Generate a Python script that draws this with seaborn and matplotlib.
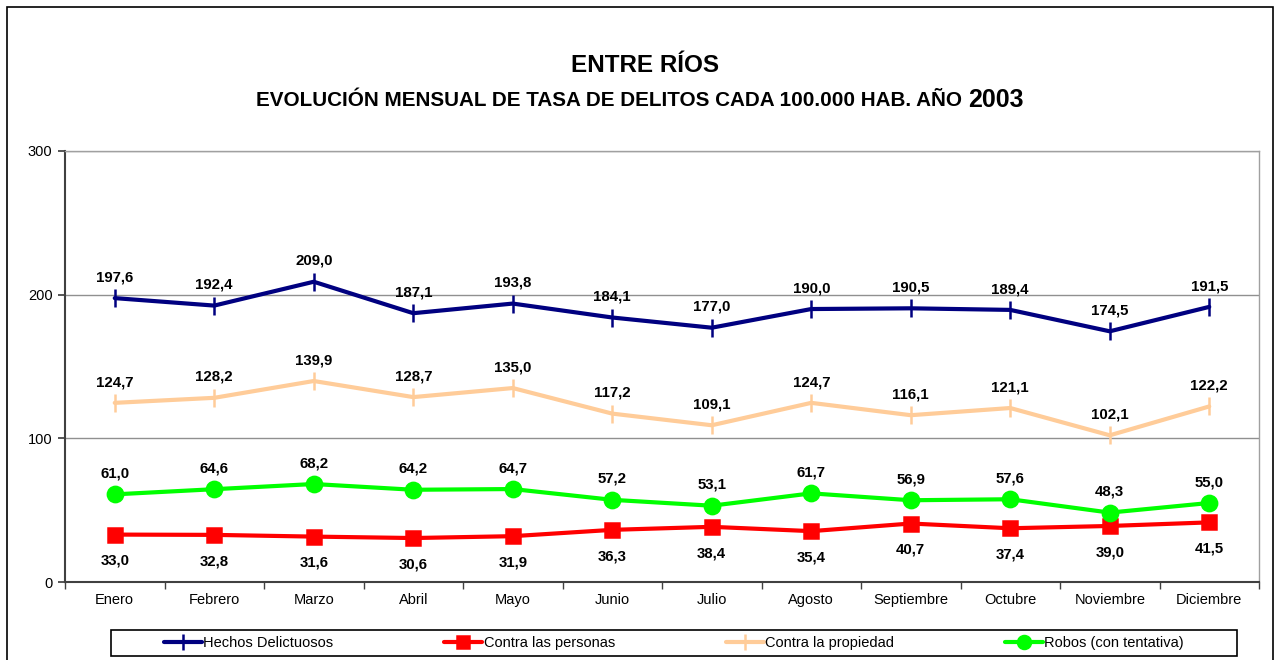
import numpy as np
import pandas as pd
import seaborn as sns
import matplotlib.pyplot as plt
from matplotlib.patches import Rectangle

meses = ["Enero", "Febrero", "Marzo", "Abril", "Mayo", "Junio", "Julio",
         "Agosto", "Septiembre", "Octubre", "Noviembre", "Diciembre"]
hechos = [197.6, 192.4, 209.0, 187.1, 193.8, 184.1, 177.0, 190.0, 190.5, 189.4, 174.5, 191.5]
personas = [33.0, 32.8, 31.6, 30.6, 31.9, 36.3, 38.4, 35.4, 40.7, 37.4, 39.0, 41.5]
propiedad = [124.7, 128.2, 139.9, 128.7, 135.0, 117.2, 109.1, 124.7, 116.1, 121.1, 102.1, 122.2]
robos = [61.0, 64.6, 68.2, 64.2, 64.7, 57.2, 53.1, 61.7, 56.9, 57.6, 48.3, 55.0]

series = ["Hechos Delictuosos", "Contra las personas", "Contra la propiedad", "Robos (con tentativa)"]
valores = [hechos, personas, propiedad, robos]

sns.set_theme(style="white")
plt.rcParams['font.family'] = ['Liberation Sans', 'DejaVu Sans']
plt.rcParams['text.color'] = 'black'
plt.rcParams['xtick.color'] = 'black'
plt.rcParams['ytick.color'] = 'black'

df = pd.DataFrame({
    "x": np.tile(np.arange(len(meses)), len(series)),
    "valor": np.concatenate(valores),
    "serie": np.repeat(series, len(meses)),
})

colores = {"Hechos Delictuosos": "#000080", "Contra las personas": "#FF0000",
           "Contra la propiedad": "#FFCC99", "Robos (con tentativa)": "#00FF00"}
marcadores = {"Hechos Delictuosos": "|", "Contra las personas": "s",
              "Contra la propiedad": "|", "Robos (con tentativa)": "o"}
msize = {"Hechos Delictuosos": 13, "Contra las personas": 10,
         "Contra la propiedad": 13, "Robos (con tentativa)": 11}

fig = plt.figure(figsize=(12.76, 6.6), dpi=100)
ax = fig.add_axes([65/1276, 1-582/660, (1259-65)/1276, (582-151)/660])

for s in series:
    sns.lineplot(data=df[df.serie == s], x="x", y="valor", ax=ax, color=colores[s],
                 marker=marcadores[s], markersize=msize[s], markeredgewidth=1.8,
                 markeredgecolor=colores[s], linewidth=3, label=s)

# etiquetas de datos
for s, vals in zip(series, valores):
    below = s == "Contra las personas"
    for i, v in enumerate(vals):
        txt = f"{v:.1f}".replace(".", ",")
        ax.annotate(txt, (i, v), xytext=(0, -19 if below else 15), textcoords="offset points",
                    ha="center", va="center", fontsize=10.8, fontweight="bold", color="black")

ax.set_xlim(-0.5, len(meses) - 0.5)
ax.set_ylim(0, 300)
ax.set_yticks([0, 100, 200, 300])
ax.set_xticks(np.arange(len(meses)))
ax.set_xticklabels(meses, fontsize=10.5)
ax.set_xticks(np.arange(-0.5, len(meses), 1), minor=True)
ax.tick_params(axis="x", which="major", length=0, pad=8)
ax.tick_params(axis="x", which="minor", length=5, color="#404040", direction="out", bottom=True)
ax.tick_params(axis="y", length=5, color="#404040", direction="out", left=True, labelsize=10.5, pad=4)
ax.set_xlabel("")
ax.set_ylabel("")
ax.yaxis.grid(True, color="#909090", linewidth=1)
ax.set_axisbelow(True)
for side in ["top", "right"]:
    ax.spines[side].set_color("#a0a0a0")
    ax.spines[side].set_linewidth(1)
for side in ["left", "bottom"]:
    ax.spines[side].set_color("#404040")
    ax.spines[side].set_linewidth(1.5)

handles, labels = ax.get_legend_handles_labels()
ax.legend(handles, labels, ncol=4, loc="center", bbox_to_anchor=(674/1276, 1-643/660),
          bbox_transform=fig.transFigure, frameon=False,
          fontsize=10.5, handlelength=2.6, handletextpad=0.1, columnspacing=7.6,
          borderpad=0.35, markerscale=0.85)
fig.patches.append(Rectangle((111/1276, 1-656/660), (1237-111)/1276, 26/660, transform=fig.transFigure,
                             fill=False, edgecolor="black", linewidth=1.2))

# titulos
fig.text(645/1276, 1-65/660, "ENTRE RÍOS", ha="center", va="center", fontsize=17.5, fontweight="bold")
t = fig.text(612/1276, 1-101/660, "EVOLUCIÓN MENSUAL DE TASA DE DELITOS CADA 100.000 HAB. AÑO ",
             ha="center", va="center", fontsize=14.9, fontweight="bold")
fig.canvas.draw()
bb = t.get_window_extent()
fig.text(bb.x1 / fig.bbox.width, 1-100/660, "2003", ha="left", va="center", fontsize=18, fontweight="bold")

fig.patches.append(Rectangle((7/1276, -0.1), (1273-7)/1276, 1.1 - 7/660, transform=fig.transFigure,
                             fill=False, edgecolor="black", linewidth=1.2))

fig.savefig("out.png", dpi=100)
